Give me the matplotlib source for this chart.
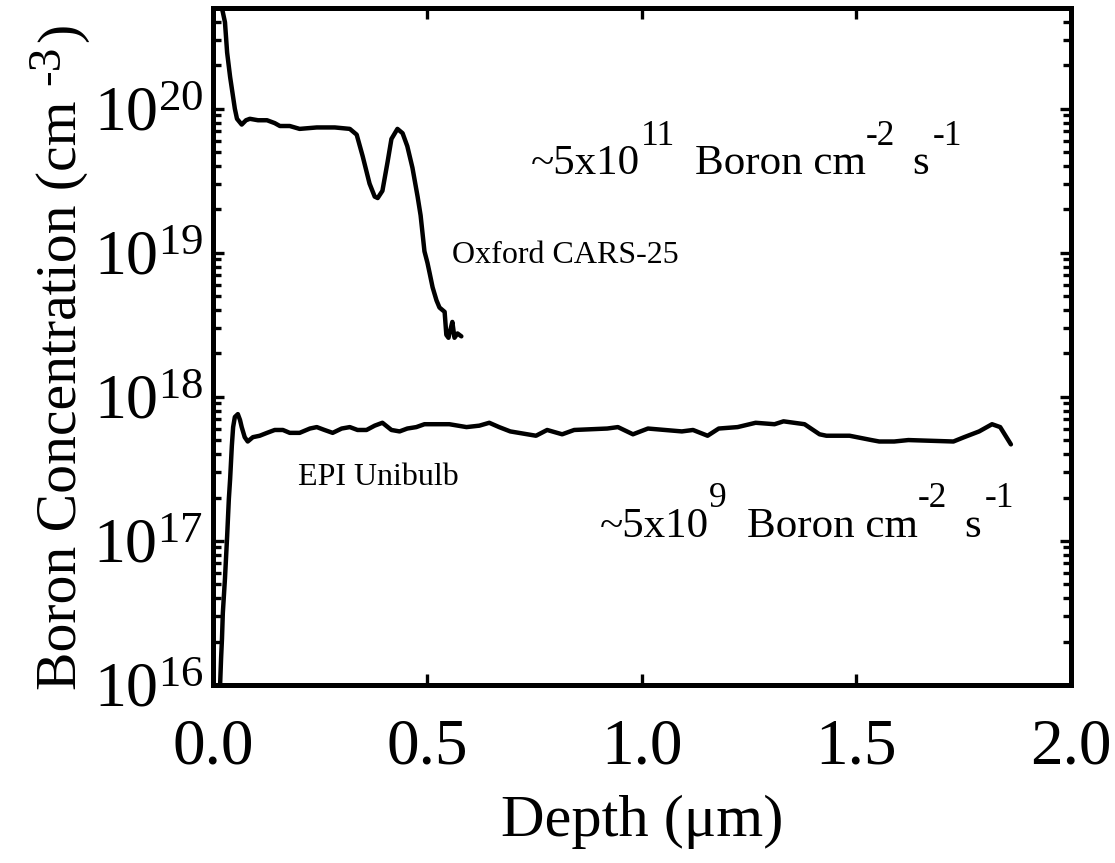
import numpy as np
import matplotlib
matplotlib.use("Agg")
import matplotlib.pyplot as plt
from matplotlib.transforms import IdentityTransform
from matplotlib.ticker import LogLocator, LogFormatterMathtext, NullFormatter

plt.rcParams['font.family'] = ['Liberation Serif', 'DejaVu Serif']
plt.rcParams['mathtext.fontset'] = 'custom'
plt.rcParams['mathtext.rm'] = 'Liberation Serif'
plt.rcParams['mathtext.it'] = 'Liberation Serif:italic'
plt.rcParams['mathtext.bf'] = 'Liberation Serif:bold'

# Oxford CARS-25 profile: depth (um), log10 concentration (cm^-3)
oxford_depth = [0.0116, 0.023, 0.028, 0.033, 0.040, 0.044, 0.051, 0.056, 0.067, 0.077,
                0.086, 0.105, 0.126, 0.144, 0.156, 0.179, 0.202, 0.242, 0.284, 0.319,
                0.335, 0.349, 0.365, 0.377, 0.384, 0.395, 0.407, 0.416, 0.430, 0.442,
                0.453, 0.465, 0.477, 0.484, 0.493, 0.500, 0.505, 0.512, 0.521, 0.528,
                0.540, 0.544, 0.549, 0.553, 0.558, 0.563, 0.570, 0.579]
oxford_log = [20.80, 20.67, 20.60, 20.39, 20.22, 20.14, 20.00, 19.93, 19.89, 19.92,
              19.93, 19.92, 19.92, 19.90, 19.88, 19.88, 19.86, 19.87, 19.87, 19.86,
              19.82, 19.67, 19.48, 19.39, 19.38, 19.43, 19.63, 19.79, 19.86, 19.83,
              19.74, 19.59, 19.39, 19.26, 19.01, 18.93, 18.86, 18.76, 18.67, 18.62,
              18.59, 18.43, 18.41, 18.46, 18.52, 18.41, 18.44, 18.42]

# EPI Unibulb profile
epi_depth = [0.016, 0.019, 0.021, 0.023, 0.028, 0.033, 0.037, 0.040, 0.044, 0.047,
             0.051, 0.058, 0.063, 0.067, 0.074, 0.081, 0.093, 0.109, 0.126, 0.144,
             0.163, 0.179, 0.202, 0.226, 0.242, 0.260, 0.279, 0.300, 0.319, 0.337,
             0.358, 0.377, 0.395, 0.416, 0.435, 0.453, 0.474, 0.493, 0.512, 0.551,
             0.591, 0.621, 0.644, 0.667, 0.693, 0.753, 0.779, 0.814, 0.842, 0.919,
             0.944, 0.979, 1.014, 1.093, 1.119, 1.153, 1.179, 1.223, 1.265, 1.309,
             1.330, 1.379, 1.414, 1.430, 1.484, 1.535, 1.553, 1.588, 1.621, 1.726,
             1.751, 1.786, 1.816, 1.835, 1.860]
epi_log = [15.95, 16.19, 16.32, 16.50, 16.74, 17.03, 17.29, 17.43, 17.66, 17.79,
           17.86, 17.88, 17.84, 17.79, 17.72, 17.69, 17.72, 17.73, 17.75, 17.77,
           17.77, 17.75, 17.75, 17.78, 17.79, 17.77, 17.75, 17.78, 17.79, 17.77,
           17.77, 17.80, 17.82, 17.77, 17.76, 17.78, 17.79, 17.81, 17.81, 17.81,
           17.79, 17.80, 17.82, 17.79, 17.76, 17.73, 17.77, 17.74, 17.77, 17.78,
           17.79, 17.74, 17.78, 17.76, 17.77, 17.73, 17.78, 17.79, 17.82, 17.81,
           17.83, 17.81, 17.74, 17.73, 17.73, 17.70, 17.69, 17.69, 17.70, 17.69,
           17.72, 17.76, 17.81, 17.79, 17.67]

x_ticks = [0.0, 0.5, 1.0, 1.5, 2.0]
x_ticklabels = ['0.0', '0.5', '1.0', '1.5', '2.0']

DPI = 100
fig = plt.figure(figsize=(11.15, 8.63), dpi=DPI)
ax = fig.add_axes([0.191, 0.2063, 0.7695, 0.7844])

lw = 3.2
ax.plot(oxford_depth, 10.0 ** np.array(oxford_log), color='black', lw=lw,
        solid_joinstyle='round', solid_capstyle='round')
ax.plot(epi_depth, 10.0 ** np.array(epi_log), color='black', lw=lw,
        solid_joinstyle='round', solid_capstyle='round')

ax.set_yscale('log')
ax.set_xlim(0, 2.0)
ax.set_ylim(1e16, 5e20)

ax.set_xticks(x_ticks)
ax.set_xticklabels(x_ticklabels)
ax.yaxis.set_major_locator(LogLocator(base=10, numticks=10))
ax.yaxis.set_major_formatter(LogFormatterMathtext())
ax.yaxis.set_minor_locator(LogLocator(base=10, subs=np.arange(2, 10), numticks=20))
ax.yaxis.set_minor_formatter(NullFormatter())

for s in ax.spines.values():
    s.set_linewidth(3.6)

ax.tick_params(axis='both', which='both', direction='in', top=True, right=True)
ax.tick_params(axis='both', which='major', length=8, width=2.4)
ax.tick_params(axis='x', which='major', labelsize=47, pad=24)
ax.tick_params(axis='y', which='major', labelsize=46, pad=7)
ax.tick_params(axis='y', which='minor', length=6, width=2.4)

ax.set_xlabel('Depth (\u03bcm)', fontsize=43.5, labelpad=12)

renderer = fig.canvas.get_renderer()


def rich_text(x0, y0, pieces, rotation=0):
    """pieces: (text, fontsize, rise_pt) or ('GAP', px)."""
    pos = 0.0
    for p in pieces:
        if p[0] == 'GAP':
            pos += p[1]
            continue
        s, size, rise = p
        r = rise * DPI / 72.0
        if rotation == 0:
            px, py = x0 + pos, y0 + r
        else:
            px, py = x0 - r, y0 + pos
        t = fig.text(px, py, s, fontsize=size, ha='left', va='baseline',
                     rotation=rotation, rotation_mode='anchor',
                     transform=IdentityTransform())
        bb = t.get_window_extent(renderer)
        pos += bb.width if rotation == 0 else bb.height


def data_px(x, y):
    return ax.transData.transform((x, y))


base = 31
sup = 25.5
rise = 21
x0, y0 = data_px(0.742, 10 ** 19.545)
rich_text(x0, y0, [('~5x10', base, 0), ('11', sup, rise), ('GAP', 20),
                   ('Boron cm', base, 0), ('-2', sup, rise), ('GAP', 17),
                   ('s', base, 0), ('GAP', 4), ('-1', sup, rise)])
x0, y0 = data_px(0.902, 10 ** 17.03)
rich_text(x0, y0, [('~5x10', base, 0), ('9', sup, rise), ('GAP', 20),
                   ('Boron cm', base, 0), ('-2', sup, rise), ('GAP', 17),
                   ('s', base, 0), ('GAP', 4), ('-1', sup, rise)])

ax.text(0.558, 10 ** 18.93, 'Oxford CARS-25', fontsize=23, ha='left', va='baseline')
ax.text(0.198, 10 ** 17.39, 'EPI Unibulb', fontsize=23, ha='left', va='baseline')

# y-axis label, rotated, with raised "-3"
ylab = 41.5
rich_text(76, 863 - 690, [('Boron Concentration (cm', ylab, 0), ('GAP', 16),
                          ('-3', 34, 12), ('GAP', 3), (')', ylab, 0)], rotation=90)

fig.savefig('out.png', dpi=DPI)
